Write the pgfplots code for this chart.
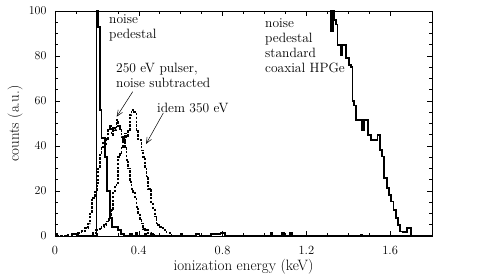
\documentclass[border=0pt]{standalone}
\usepackage{pgfplots}
\pgfplotsset{compat=1.18}
\usetikzlibrary{arrows.meta}
\begin{document}
\begin{tikzpicture}
\useasboundingbox (-55pt,-42pt) rectangle (436pt,236pt);
\begin{axis}[
  scale only axis, width=377pt, height=225pt,
  xmin=0, xmax=1.8, ymin=0, ymax=100,
  xtick={0,0.4,0.8,1.2,1.6}, xticklabels={0,0.4,0.8,1.2,1.6},
  ytick={0,20,40,60,80,100},
  minor x tick num=3, minor y tick num=3,
  major tick length=5pt, minor tick length=3pt,
  tick align=inside,
  axis line style={line width=0.6pt},
  every tick/.style={line width=0.5pt, black},
  ticklabel style={font=\fontsize{12.5}{14}\selectfont},
  xticklabel style={yshift=-6.5pt},
  yticklabel style={xshift=-5pt},
  xlabel={ionization energy (keV)},
  ylabel={counts (a.u.)},
  label style={font=\fontsize{15}{17}\selectfont},
  xlabel style={at={(axis description cs:0.5,-0.155)}, anchor=base},
  ylabel style={at={(axis description cs:-0.106,0.5)}, anchor=center},
  clip=true,
]
% noise pedestal (Ge bolometer)
\addplot[const plot mark left, black, line width=1.8pt] coordinates {
(0.100,0) (0.198,140) (0.206,93) (0.214,56) (0.222,43.5) (0.240,35) (0.250,20)
(0.262,8) (0.272,4) (0.300,2.5) (0.315,1) (0.330,0)
(0.360,1) (0.366,0) (0.386,1.2) (0.394,0) (0.430,1) (0.436,0) (0.460,0.8) (0.466,0)
(0.600,0.8) (0.606,0) (0.675,1) (0.690,0) (0.746,1) (0.770,0.8) (0.790,1.2) (0.810,0)
(1.030,1.2) (1.038,0) (1.084,1.2) (1.092,0) (1.122,1.2) (1.132,0) (1.460,0.6) (1.466,0)
(1.800,0)
};
% noise pedestal standard coaxial HPGe
\addplot[const plot mark left, black, line width=1.8pt] coordinates {
(1.300,150) (1.318,91) (1.326,108) (1.333,96) (1.341,94) (1.349,85) (1.357,85)
(1.365,80.5) (1.373,85) (1.381,85) (1.389,79) (1.397,79) (1.405,76) (1.413,75)
(1.420,60) (1.428,58) (1.436,51.6) (1.464,47) (1.476,51.6) (1.495,45) (1.508,42.7)
(1.540,45) (1.551,38.2) (1.563,35.3) (1.571,25.6) (1.584,21.2) (1.595,18.2)
(1.606,15.3) (1.616,11.6) (1.627,7.9) (1.638,4.9) (1.649,2) (1.659,1.9)
(1.680,3.4) (1.698,0) (1.800,0)
};
% 250 eV pulser, noise subtracted
\addplot[const plot mark left, black, line width=1.7pt, dash pattern=on 2.5pt off 1.3pt] coordinates {
(0.000,1.0) (0.010,0) (0.060,0.5) (0.080,1) (0.095,0.5) (0.110,1.3) (0.127,2.2)
(0.143,3.5) (0.159,5.5) (0.167,10) (0.175,16) (0.183,17) (0.191,19.7) (0.199,23.4)
(0.206,30) (0.214,36) (0.222,39) (0.230,42) (0.238,40) (0.246,43) (0.254,47)
(0.262,49) (0.270,45) (0.278,48) (0.286,47) (0.294,51.6) (0.302,49) (0.310,47)
(0.318,44) (0.325,42.7) (0.333,39.7) (0.341,33.8) (0.349,30) (0.357,24.1)
(0.365,21) (0.373,19.7) (0.381,16.7) (0.389,13) (0.397,10) (0.405,7) (0.413,5.6)
(0.421,3) (0.429,2.7) (0.443,1.3) (0.460,0.5) (0.475,0) (0.600,0)
};
% idem 350 eV
\addplot[const plot mark left, black, line width=1.7pt, dash pattern=on 2.5pt off 1.3pt] coordinates {
(0.150,0) (0.175,1.0) (0.183,1.3) (0.195,2.7) (0.206,3.0) (0.214,3.6) (0.222,4.1)
(0.233,4.9) (0.243,6.4) (0.259,7.9) (0.270,11.6) (0.278,20) (0.286,22.5)
(0.294,23.4) (0.302,35.2) (0.310,37) (0.317,39.7) (0.325,43) (0.333,45.6)
(0.341,44) (0.349,47.1) (0.357,53.8) (0.365,56) (0.373,55) (0.381,54.5)
(0.389,47) (0.397,43) (0.405,42.7) (0.413,38) (0.421,35.2) (0.429,30)
(0.437,26.4) (0.445,21) (0.453,20.4) (0.460,14.5) (0.468,12.3) (0.476,8.6)
(0.484,5.6) (0.492,4.8) (0.500,4.1) (0.516,2.7) (0.532,1.5) (0.548,1.2)
(0.556,0) (0.600,0)
};
\end{axis}
% annotations (px -> pt: x-55, 236-y)
\begin{scope}[every node/.style={font=\fontsize{13.5}{15}\selectfont, inner sep=0pt, align=left, anchor=north west}]
\node at (54pt,222pt) {noise\\pedestal};
\node at (61pt,173pt) {250 eV pulser,\\noise subtracted};
\node at (102pt,133pt) {idem 350 eV};
\node at (210pt,218pt) {noise\\pedestal\\standard\\coaxial HPGe};
\end{scope}
\draw[line width=0.5pt, -{Straight Barb[length=6pt,width=5pt]}] (77.7pt,144.3pt) -- (61.7pt,119.3pt);
\draw[line width=0.5pt, -{Straight Barb[length=6pt,width=5pt]}] (108.3pt,123pt) -- (91pt,92pt);
\end{tikzpicture}
\end{document}
